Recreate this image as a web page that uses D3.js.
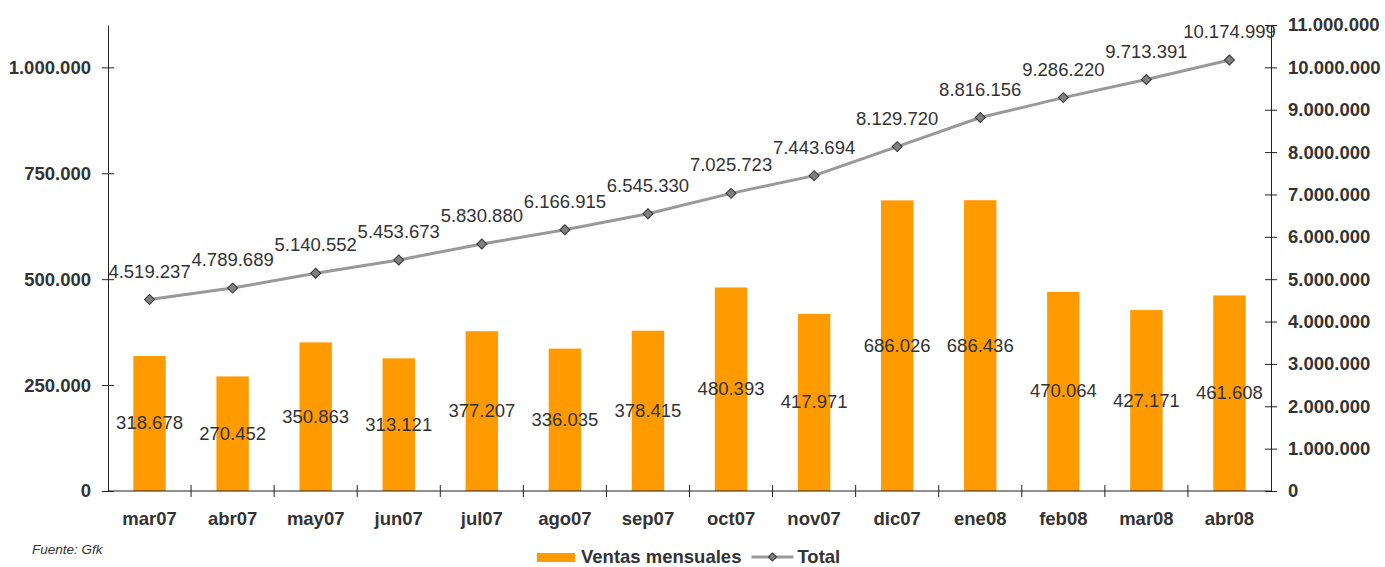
<!DOCTYPE html>
<html>
<head>
<meta charset="utf-8">
<script src="https://cdn.jsdelivr.net/npm/d3@7"></script>
<style>
  body { margin: 0; background: #fff; }
  svg { font-family: "Liberation Sans", Arial, sans-serif; }
</style>
</head>
<body>
<div id="chart"></div>
<script>
// monthly sales + running total
var months = ['mar07', 'abr07', 'may07', 'jun07', 'jul07', 'ago07', 'sep07',
  'oct07', 'nov07', 'dic07', 'ene08', 'feb08', 'mar08', 'abr08'];
var ventas = [318678, 270452, 350863, 313121, 377207, 336035, 378415,
  480393, 417971, 686026, 686436, 470064, 427171, 461608];
var total = [4519237, 4789689, 5140552, 5453673, 5830880, 6166915, 6545330,
  7025723, 7443694, 8129720, 8816156, 9286220, 9713391, 10174999];
var left_ticks = [0, 250000, 500000, 750000, 1000000];
var right_ticks = [0, 1000000, 2000000, 3000000, 4000000, 5000000,
  6000000, 7000000, 8000000, 9000000, 10000000, 11000000];

var chart_width = 1385;
var chart_height = 567;
var m = { left: 108, right: 114, top: 25, bottom: 76 };
var txt = '#333';
var fs = '18.5px';

var svg = d3
  .select('#chart')
  .append('svg')
  .attr('width', chart_width)
  .attr('height', chart_height);

var fmt = function(v) {
  return String(v).replace(/\B(?=(\d{3})+(?!\d))/g, '.');
};

// scales
var x_scale = d3
  .scaleBand()
  .domain(months)
  .range([m.left, chart_width - m.right]);
var y_left = d3
  .scaleLinear()
  .domain([0, 1100000])
  .range([chart_height - m.bottom, m.top]);
var y_right = d3
  .scaleLinear()
  .domain([0, 11000000])
  .range([chart_height - m.bottom, m.top]);

var bar_w = x_scale.bandwidth() * 0.39;

// bars
svg
  .selectAll('rect.bar')
  .data(ventas)
  .enter()
  .append('rect')
  .attr('class', 'bar')
  .attr('x', function(d, i) {
    return x_scale(months[i]) + x_scale.bandwidth() / 2 - bar_w / 2;
  })
  .attr('y', function(d) {
    return y_left(d);
  })
  .attr('width', bar_w)
  .attr('height', function(d) {
    return y_left(0) - y_left(d);
  })
  .attr('fill', '#ff9a00');

// axes
var axL = svg
  .append('g')
  .attr('transform', 'translate(' + m.left + ',0)')
  .call(d3.axisLeft(y_left).tickValues(left_ticks).tickFormat(fmt).tickSizeInner(6).tickSizeOuter(0));
var axR = svg
  .append('g')
  .attr('transform', 'translate(' + (chart_width - m.right) + ',0)')
  .call(d3.axisRight(y_right).tickValues(right_ticks).tickFormat(fmt).tickSizeInner(6).tickSizeOuter(0));
var axB = svg
  .append('g')
  .attr('transform', 'translate(0,' + y_left(0) + ')')
  .call(d3.axisBottom(x_scale).tickSize(0).tickPadding(21));

[axL, axR, axB].forEach(function(a) {
  a.select('.domain').attr('stroke', '#222');
  a.selectAll('text')
    .attr('fill', txt)
    .style('font-size', fs)
    .style('font-weight', 'bold');
});
axL.selectAll('.tick line').attr('x2', 6).attr('x1', -6).attr('stroke', '#222');
axR.selectAll('.tick line').attr('x1', -6).attr('x2', 6).attr('stroke', '#222');
axL.selectAll('.tick text').attr('x', -17);
axR.selectAll('.tick text').attr('x', 17);
axB.select('.domain').attr('d', 'M' + m.left + ',0H' + (chart_width - m.right));

// category boundary ticks
svg
  .selectAll('line.sep')
  .data(months.slice(1))
  .enter()
  .append('line')
  .attr('class', 'sep')
  .attr('x1', function(d) { return x_scale(d); })
  .attr('x2', function(d) { return x_scale(d); })
  .attr('y1', y_left(0) - 6)
  .attr('y2', y_left(0) + 6)
  .attr('stroke', '#222');

// total line
var cx = function(i) { return x_scale(months[i]) + x_scale.bandwidth() / 2; };
var line = d3.line()
  .x(function(d, i) { return cx(i); })
  .y(function(d) { return y_right(d); });

svg.append('path')
  .datum(total)
  .attr('d', line)
  .attr('fill', 'none')
  .attr('stroke', '#999')
  .attr('stroke-width', 3);

// square turned 45deg = even diamond
var diamond = d3.symbol().type(d3.symbolSquare).size(50);
svg
  .selectAll('path.mk')
  .data(total)
  .enter()
  .append('path')
  .attr('class', 'mk')
  .attr('d', diamond)
  .attr('transform', function(d, i) {
    return 'translate(' + cx(i) + ',' + y_right(d) + ') rotate(45)';
  })
  .attr('fill', '#808080')
  .attr('stroke', '#333')
  .attr('stroke-width', 1);

// value labels
svg
  .selectAll('text.tl')
  .data(total)
  .enter()
  .append('text')
  .attr('class', 'tl')
  .attr('x', function(d, i) { return cx(i); })
  .attr('y', function(d) { return y_right(d) - 22; })
  .attr('text-anchor', 'middle')
  .attr('fill', txt)
  .style('font-size', fs)
  .text(fmt);

svg
  .selectAll('text.bl')
  .data(ventas)
  .enter()
  .append('text')
  .attr('class', 'bl')
  .attr('x', function(d, i) { return cx(i); })
  .attr('y', function(d) { return (y_left(d) + y_left(0)) / 2 + 6; })
  .attr('text-anchor', 'middle')
  .attr('fill', txt)
  .style('font-size', fs)
  .text(fmt);

// source
svg.append('text')
  .attr('x', 32)
  .attr('y', 554)
  .attr('fill', txt)
  .style('font-size', '13.5px')
  .style('font-style', 'italic')
  .text('Fuente: Gfk');

// legend
var lg = svg.append('g').attr('transform', 'translate(537,557)');
lg.append('rect')
  .attr('x', 0).attr('y', -4).attr('width', 38).attr('height', 9)
  .attr('fill', '#ff9a00');
var t1 = lg.append('text')
  .attr('x', 44).attr('y', 6)
  .attr('fill', txt)
  .style('font-size', fs)
  .style('font-weight', 'bold')
  .text('Ventas mensuales');
var lx = 44 + t1.node().getComputedTextLength() + 10;
lg.append('line')
  .attr('x1', lx).attr('x2', lx + 42).attr('y1', 0).attr('y2', 0)
  .attr('stroke', '#999').attr('stroke-width', 3);
lg.append('path')
  .attr('d', d3.symbol().type(d3.symbolSquare).size(32))
  .attr('transform', 'translate(' + (lx + 21) + ',0) rotate(45)')
  .attr('fill', '#808080')
  .attr('stroke', '#333');
lg.append('text')
  .attr('x', lx + 46).attr('y', 6)
  .attr('fill', txt)
  .style('font-size', fs)
  .style('font-weight', 'bold')
  .text('Total');
</script>
</body>
</html>
